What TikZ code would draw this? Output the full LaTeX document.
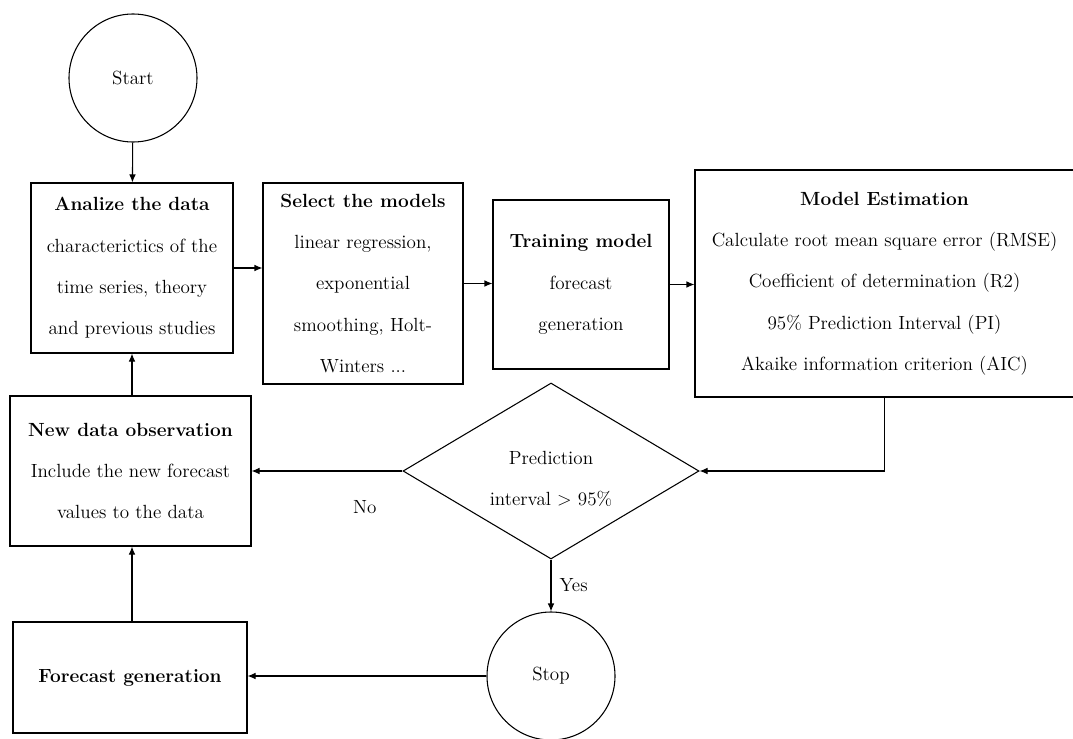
\documentclass[tikz,border=0pt]{standalone}
\usetikzlibrary{arrows.meta,positioning,shapes.geometric,calc}

\tikzset{
  box/.style={draw, line width=0.8pt, rectangle, align=center, inner sep=0pt},
  term/.style={draw, line width=0.8pt, circle, inner sep=0pt, minimum size=96pt},
  cond/.style={draw, line width=0.8pt, diamond, aspect=1.67, align=center, inner sep=0pt,
    minimum width=222pt, minimum height=132pt},
  arr/.style={-{Latex[length=6pt,width=5pt]}, line width=0.8pt},
  lbl/.style={inner sep=0pt},
}

\begin{document}
\begin{tikzpicture}[x=0.75pt, y=-0.75pt, font=\fontsize{14.3}{31}\selectfont]
        \clip (0,0) rectangle (1073,738);
        % terminals
        \node[term] (start) at (133,78) {Start};
        \node[term] (stop) at (551,676) {Stop};
        % process boxes
        \node[box, minimum width=151.5pt, minimum height=127.5pt] (analyze) at (132,268)
          {\textbf{Analize the data}\\characterictics of the\\time series, theory\\and previous studies};
        \node[box, minimum width=150pt, minimum height=150.75pt] (select) at (363,283.5)
          {\textbf{Select the models}\\linear regression,\\exponential\\smoothing, Holt-\\Winters ...};
        \node[box, minimum width=132pt, minimum height=126.75pt] (train) at (581,284.5)
          {\textbf{Training model}\\forecast\\generation};
        \node[box, minimum width=284.25pt, minimum height=170.25pt] (model) at (884.5,283.5)
          {\textbf{Model Estimation}\\Calculate root mean square error (RMSE)\\Coefficient of determination (R2)\\95\% Prediction Interval (PI)\\Akaike information criterion (AIC)};
        \node[cond, text height=55pt, text depth=2.8pt] (dec) at (551,471) {Prediction\\interval > 95\%};
        \node[box, minimum width=180.75pt, minimum height=112.5pt] (newdata) at (130.5,471)
          {\textbf{New data observation}\\Include the new forecast\\values to the data};
        \node[box, minimum width=175.5pt, minimum height=83.25pt] (forecast) at (130,677.5)
          {\textbf{Forecast generation}};
        % connectors
        \draw[arr] (start) -- (analyze);
        \draw[arr] (analyze.east) -- (analyze.east -| select.west);
        \draw[arr] (select.east) -- (select.east -| train.west);
        \draw[arr] (train.east) -- (train.east -| model.west);
        \draw[arr] (model.south) |- (dec.east);
        \draw[arr] (dec.west) -- (dec.west -| newdata.east) node[lbl, pos=0.25, below=22pt] (no) {No};
        \draw[arr] (newdata.north -| analyze.south) -- (analyze.south);
        \draw[arr] (dec.south) -- (stop.north) node[lbl, midway, right=6pt] (yes) {Yes};
        \draw[arr] (stop.west) -- (stop.west -| forecast.east);
        \draw[arr] (forecast.north -| analyze.south) -- (newdata.south -| analyze.south);
      \end{tikzpicture}
\end{document}
